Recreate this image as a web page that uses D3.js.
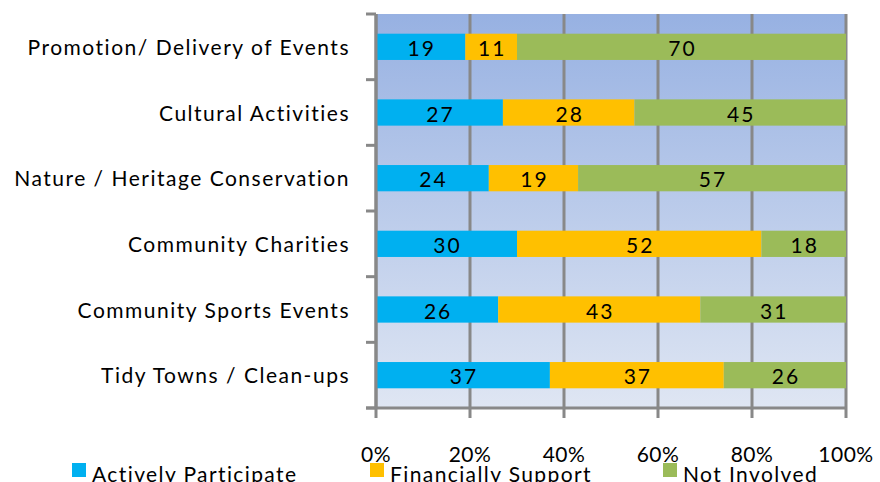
<!DOCTYPE html>
<html>
<head>
<meta charset="utf-8">
<script src="https://cdn.jsdelivr.net/npm/d3@7"></script>
<style>
  body { margin: 0; background: #fff; }
  svg text { font-family: Lato, "Open Sans", sans-serif; fill: #000; }
</style>
</head>
<body>
<svg id="chart" width="880" height="482"></svg>
<script>
const categories = [
  'Promotion/ Delivery of Events',
  'Cultural Activities',
  'Nature / Heritage Conservation',
  'Community Charities',
  'Community Sports Events',
  'Tidy Towns / Clean-ups'
];
const seriesNames = ['Actively Participate', 'Financially Support', 'Not Involved'];
const activelyParticipate = [19, 27, 24, 30, 26, 37];
const financiallySupport = [11, 28, 19, 52, 43, 37];
const notInvolved = [70, 45, 57, 18, 31, 26];
const xTicks = [0, 20, 40, 60, 80, 100];
const colors = ['#00b0f0', '#ffc000', '#9bbb59'];

const rows = categories.map((c, i) => ({
  cat: c,
  vals: [activelyParticipate[i], financiallySupport[i], notInvolved[i]]
}));

const plotL = 376, plotR = 846, plotT = 14, plotB = 408;
const svg = d3.select('#chart');

const x = d3.scaleLinear().domain([0, 100]).range([plotL, plotR]);
const y = d3.scaleBand().domain(categories).range([plotT, plotB]).paddingInner(0.6).paddingOuter(0.3);

// gradient background
const defs = svg.append('defs');
const grad = defs.append('linearGradient').attr('id', 'bg')
  .attr('x1', 0).attr('y1', 0).attr('x2', 0).attr('y2', 1);
grad.append('stop').attr('offset', '0%').attr('stop-color', '#97b1e2');
grad.append('stop').attr('offset', '100%').attr('stop-color', '#dfe6f3');

svg.append('rect')
  .attr('x', plotL).attr('y', plotT)
  .attr('width', plotR - plotL).attr('height', plotB - plotT)
  .attr('fill', 'url(#bg)');

// vertical gridlines + bottom ticks
svg.append('g').selectAll('line').data(xTicks).enter().append('line')
  .attr('x1', d => x(d)).attr('x2', d => x(d))
  .attr('y1', plotT).attr('y2', plotB + 10)
  .attr('stroke', '#888').attr('stroke-width', 3);

// bars
const bars = svg.append('g');
rows.forEach(r => {
  let acc = 0;
  r.vals.forEach((v, k) => {
    const x0 = x(acc), x1 = x(acc + v);
    bars.append('rect')
      .attr('x', x0).attr('y', y(r.cat))
      .attr('width', x1 - x0).attr('height', y.bandwidth())
      .attr('fill', colors[k]);
    bars.append('text')
      .attr('x', (x0 + x1) / 2 + 1)
      .attr('y', y(r.cat) + y.bandwidth() / 2 + 9)
      .attr('text-anchor', 'middle')
      .attr('font-size', 21)
      .attr('letter-spacing', 2)
      .text(v);
    acc += v;
  });
});

// left axis line with ticks at band boundaries
const yAxis = svg.append('g');
yAxis.append('line')
  .attr('x1', plotL).attr('x2', plotL).attr('y1', plotT).attr('y2', plotB)
  .attr('stroke', '#888').attr('stroke-width', 3);
d3.range(categories.length + 1).forEach(i => {
  const yy = plotT + i * (plotB - plotT) / categories.length;
  yAxis.append('line')
    .attr('x1', plotL - 10).attr('x2', plotL).attr('y1', yy).attr('y2', yy)
    .attr('stroke', '#888').attr('stroke-width', 3);
});

// bottom axis line
svg.append('line')
  .attr('x1', plotL - 10).attr('x2', plotR).attr('y1', plotB).attr('y2', plotB)
  .attr('stroke', '#888').attr('stroke-width', 3);

// category labels
svg.append('g').selectAll('text').data(categories).enter().append('text')
  .attr('x', 350)
  .attr('y', d => y(d) + y.bandwidth() / 2 + 8)
  .attr('text-anchor', 'end')
  .attr('font-size', 21)
  .attr('letter-spacing', 1.5)
  .text(d => d);

// tick labels
svg.append('g').selectAll('text').data(xTicks).enter().append('text')
  .attr('x', d => x(d))
  .attr('y', 462)
  .attr('text-anchor', 'middle')
  .attr('font-size', 21)
  .attr('letter-spacing', 0.5)
  .text(d => d + '%');

// legend
const legendX = [72, 370, 663];
const legend = svg.append('g');
seriesNames.forEach((s, i) => {
  legend.append('rect')
    .attr('x', legendX[i]).attr('y', 463)
    .attr('width', 14).attr('height', 14)
    .attr('fill', colors[i]);
  legend.append('text')
    .attr('x', legendX[i] + 20).attr('y', 482)
    .attr('font-size', 21)
    .attr('letter-spacing', 1.4)
    .text(s);
});
</script>
</body>
</html>
